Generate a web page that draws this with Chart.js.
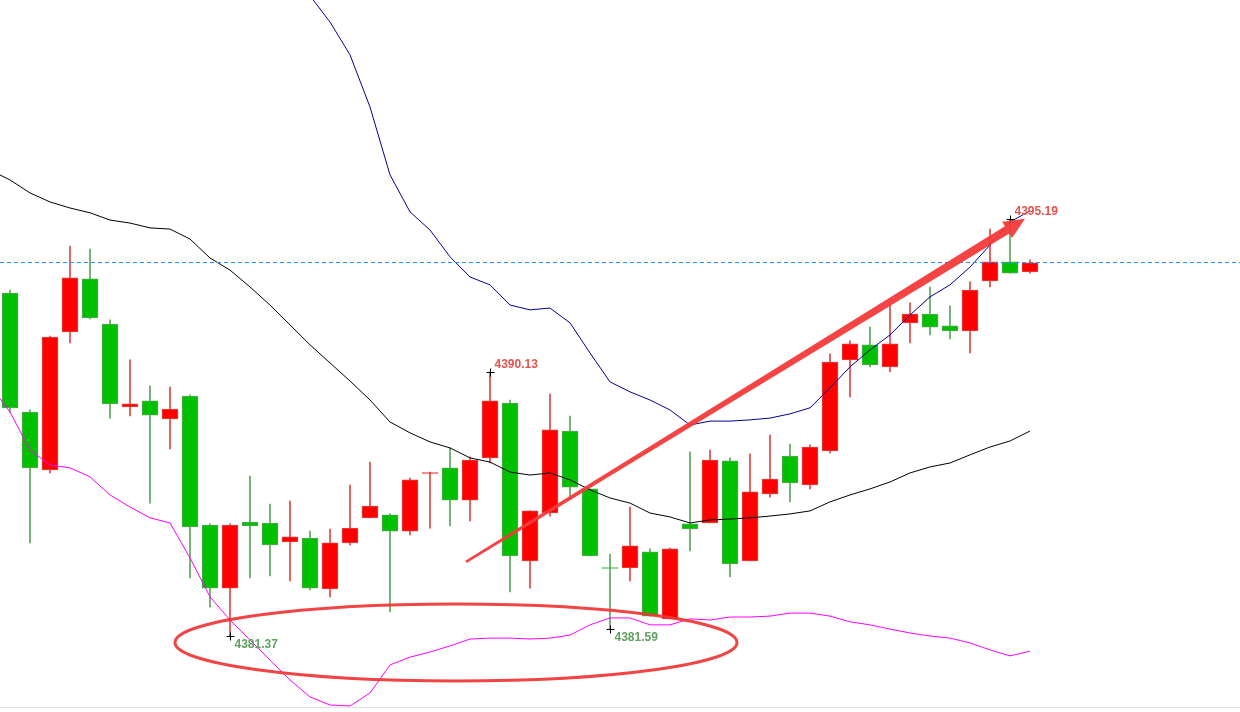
<!DOCTYPE html>
<html lang="es">
<head>
<meta charset="utf-8">
<title>Velas 4381 - 4395</title>
<script src="https://cdn.jsdelivr.net/npm/chart.js@4.4.1/dist/chart.umd.min.js"></script>
<style>
  html, body { margin: 0; padding: 0; background: #fff; }
  #wrap { position: relative; width: 1240px; height: 712px; }
</style>
</head>
<body>
<div id="wrap"><canvas id="velasChart"></canvas></div>
<script>
// ===============================
// datos
// ===============================
const velaApertura = [
  4392.75, 4388.80, 4386.88, 4391.46, 4393.22, 4391.72, 4388.97, 4389.17, 4388.57, 4389.33,
  4385.05, 4382.96, 4385.15, 4385.12, 4384.49, 4384.62, 4382.93, 4384.46, 4385.29, 4385.39,
  4384.85, 4386.76, 4386.95, 4385.88, 4387.28, 4389.10, 4383.86, 4385.45, 4388.17, 4386.25,
  4383.64, 4383.63, 4384.16, 4381.94, 4385.09, 4385.12, 4387.18, 4383.86, 4386.08, 4387.34,
  4386.38, 4387.51, 4390.53, 4391.03, 4390.30, 4391.76, 4392.05, 4391.66, 4391.49, 4393.15,
  4393.78, 4393.45
];
const velaMaximo = [
  4392.85, 4388.87, 4391.32, 4394.31, 4394.21, 4391.86, 4390.53, 4389.67, 4389.63, 4389.37,
  4385.09, 4385.09, 4386.68, 4385.75, 4385.85, 4384.85, 4384.92, 4386.38, 4387.14, 4385.42,
  4386.61, 4386.81, 4387.61, 4387.31, 4390.13, 4389.20, 4385.52, 4389.40, 4388.67, 4386.25,
  4384.09, 4385.65, 4384.26, 4384.29, 4387.48, 4387.54, 4387.28, 4387.41, 4388.04, 4387.74,
  4387.71, 4390.73, 4391.16, 4391.62, 4392.35, 4392.42, 4392.95, 4392.32, 4393.12, 4394.87,
  4395.19, 4393.85
];
const velaMinimo = [
  4388.80, 4384.46, 4386.78, 4391.09, 4391.89, 4388.60, 4388.67, 4385.78, 4387.58, 4383.30,
  4382.33, 4381.37, 4383.30, 4383.36, 4383.20, 4382.90, 4382.67, 4384.39, 4385.29, 4382.17,
  4384.72, 4384.95, 4385.02, 4385.19, 4387.11, 4382.83, 4382.96, 4385.35, 4385.98, 4384.03,
  4381.59, 4383.20, 4382.03, 4381.94, 4384.19, 4385.12, 4383.33, 4383.86, 4385.98, 4385.82,
  4386.25, 4387.44, 4389.30, 4390.30, 4390.13, 4391.09, 4391.36, 4391.23, 4390.76, 4392.95,
  4393.41, 4393.41
];
const velaCierre = [
  4388.94, 4386.95, 4391.29, 4393.25, 4391.92, 4389.07, 4389.07, 4388.70, 4388.90, 4384.99,
  4382.96, 4385.05, 4385.02, 4384.39, 4384.66, 4382.96, 4384.46, 4384.95, 4385.68, 4384.85,
  4386.55, 4386.79, 4385.88, 4387.21, 4389.17, 4384.03, 4385.52, 4388.21, 4386.31, 4384.03,
  4383.61, 4384.36, 4382.03, 4384.26, 4384.92, 4387.21, 4383.76, 4386.15, 4386.58, 4386.45,
  4387.64, 4390.46, 4391.06, 4390.36, 4391.06, 4392.05, 4391.62, 4391.49, 4392.85, 4393.78,
  4393.41, 4393.75
];

// bandas: el primer valor corresponde a la vela anterior (índice -1)
const bandaInicio = -1;
const bandaSup = [
  null, null, null, null, null, null, null, null, null, null, null, null, null, null, null,
  4403.47, 4402.61, 4401.74, 4400.65, 4398.92, 4396.67, 4395.44, 4394.84, 4393.95, 4393.28,
  4393.02, 4392.35, 4392.19, 4392.25, 4391.76, 4390.76, 4389.80, 4389.47, 4389.20, 4388.87,
  4388.37, 4388.50, 4388.50, 4388.54, 4388.60, 4388.74, 4388.94, 4389.60, 4390.30, 4390.86,
  4391.36, 4392.02, 4392.62, 4393.02, 4393.61, 4394.34, 4395.11, 4395.47
];
const bandaMedia = [
  4396.83, 4396.50, 4396.07, 4395.77, 4395.57, 4395.41, 4395.17, 4395.07, 4394.91, 4394.87,
  4394.54, 4393.91, 4393.51, 4392.95, 4392.35, 4391.69, 4391.03, 4390.43, 4389.83, 4389.20,
  4388.47, 4388.11, 4387.81, 4387.61, 4387.28, 4387.14, 4386.81, 4386.71, 4386.78, 4386.55,
  4386.22, 4385.95, 4385.78, 4385.45, 4385.32, 4385.12, 4385.22, 4385.25, 4385.29, 4385.35,
  4385.42, 4385.52, 4385.82, 4386.05, 4386.25, 4386.48, 4386.78, 4386.98, 4387.11, 4387.38,
  4387.64, 4387.84, 4388.17
];
const bandaInf = [
  4389.70, 4388.80, 4387.54, 4387.04, 4386.95, 4386.65, 4386.05, 4385.65, 4385.29, 4385.12,
  4383.96, 4382.67, 4381.90, 4381.24, 4380.57, 4379.91, 4379.35, 4379.08, 4379.05, 4379.48,
  4380.41, 4380.67, 4380.84, 4381.04, 4381.27, 4381.30, 4381.30, 4381.27, 4381.30, 4381.40,
  4381.74, 4381.97, 4381.97, 4381.74, 4381.74, 4381.94, 4381.90, 4382.00, 4382.00, 4382.03,
  4382.13, 4382.13, 4382.03, 4381.84, 4381.74, 4381.60, 4381.47, 4381.37, 4381.30, 4381.14,
  4380.91, 4380.71, 4380.87
];

const nivelPrecio = 4393.76;      // línea punteada azul
const marcaIdx = [24, 11, 30, 50]; // velas con máximo / mínimo marcado
const marcaTipo = ["max", "min", "min", "max"];

// ===============================
// escalas y estilos
// ===============================
const Y_MIN = 4379.015;
const Y_MAX = 4402.47;
const HUECOS = 62; // 52 velas + espacio libre a la derecha

const ROJO = "#ff0000", ROJO_BORDE = "#e0453f", ROJO_MECHA = "#e0453f";
const VERDE = "#00c000", VERDE_BORDE = "#5aa65a", VERDE_MECHA = "#5aa65a";

const sube = velaApertura.map((o, i) => velaCierre[i] >= o);

const cuerpos = velaApertura.map((o, i) => ({ x: i, y: [o, velaCierre[i]] }));
const mechas = velaApertura.map((_, i) => ({ x: i, y: [velaMinimo[i], velaMaximo[i]] }));
const aPuntos = arr => arr.map((v, k) => ({ x: k + bandaInicio, y: v }));

// ===============================
// anotaciones a mano (flecha, elipse, marcas)
// ===============================
const flecha = { desde: { x: 22.8, y: 4383.83 }, hasta: { x: 50.75, y: 4395.21 } };
const elipse = { x: 22.3, y: 4381.155, rx: 14.05, ry: 1.277 };

const anotaciones = {
  id: "anotaciones",
  afterDatasetsDraw(chart) {
    const { ctx, chartArea } = chart;
    const xs = chart.scales.x, ys = chart.scales.y;
    ctx.save();

    // línea gris inferior
    ctx.strokeStyle = "#e4e4e4";
    ctx.lineWidth = 1;
    ctx.beginPath();
    ctx.moveTo(chartArea.left, chartArea.bottom + 0.5);
    ctx.lineTo(chartArea.right, chartArea.bottom + 0.5);
    ctx.stroke();

    // marcas de máximo y mínimo
    ctx.font = "bold 12px 'Liberation Sans', Arial, sans-serif";
    ctx.textBaseline = "middle";
    ctx.textAlign = "left";
    marcaIdx.forEach((idx, k) => {
      const esMax = marcaTipo[k] === "max";
      const valor = esMax ? velaMaximo[idx] : velaMinimo[idx];
      const px = Math.round(xs.getPixelForValue(idx)) + 0.5;
      const py = Math.round(ys.getPixelForValue(valor)) + 0.5;
      ctx.strokeStyle = "#000";
      ctx.lineWidth = 1;
      ctx.beginPath();
      ctx.moveTo(px - 4, py); ctx.lineTo(px + 4, py);
      ctx.moveTo(px, py - 4); ctx.lineTo(px, py + 4);
      ctx.stroke();
      ctx.fillStyle = esMax ? "#e2544e" : "#62a062";
      ctx.fillText(valor.toFixed(2), px + 4, esMax ? py - 8 : py + 8);
    });

    // elipse roja
    const cx = xs.getPixelForValue(elipse.x);
    const cy = ys.getPixelForValue(elipse.y);
    const rx = xs.getPixelForValue(elipse.x + elipse.rx) - cx;
    const ry = cy - ys.getPixelForValue(elipse.y + elipse.ry);
    ctx.strokeStyle = "rgba(240,52,52,0.92)";
    ctx.lineWidth = 3;
    ctx.beginPath();
    ctx.ellipse(cx, cy, rx, ry, 0, 0, Math.PI * 2);
    ctx.stroke();

    // flecha roja que se ensancha
    const sx = xs.getPixelForValue(flecha.desde.x), sy = ys.getPixelForValue(flecha.desde.y);
    const ex = xs.getPixelForValue(flecha.hasta.x), ey = ys.getPixelForValue(flecha.hasta.y);
    const len = Math.hypot(ex - sx, ey - sy);
    const ux = (ex - sx) / len, uy = (ey - sy) / len;
    const nx = -uy, ny = ux;
    const cabeza = 21, anchoCabeza = 9.5, w0 = 1.3, w1 = 4.2;
    const bx = ex - ux * cabeza, by = ey - uy * cabeza;
    ctx.fillStyle = "rgba(243,58,58,0.95)";
    ctx.beginPath();
    ctx.moveTo(sx + nx * w0, sy + ny * w0);
    ctx.lineTo(bx + nx * w1, by + ny * w1);
    ctx.lineTo(bx + nx * anchoCabeza, by + ny * anchoCabeza);
    ctx.lineTo(ex, ey);
    ctx.lineTo(bx - nx * anchoCabeza, by - ny * anchoCabeza);
    ctx.lineTo(bx - nx * w1, by - ny * w1);
    ctx.lineTo(sx - nx * w0, sy - ny * w0);
    ctx.closePath();
    ctx.fill();

    ctx.restore();
  }
};

// ===============================
// gráfico
// ===============================
const ctx = document.getElementById("velasChart");

new Chart(ctx, {
  type: "bar",
  data: {
    datasets: [
      {
        type: "line",
        label: "Nivel",
        data: [{ x: -0.5, y: nivelPrecio }, { x: HUECOS - 0.5, y: nivelPrecio }],
        borderColor: "#1e8cff",
        borderWidth: 1,
        borderDash: [4, 3],
        pointRadius: 0,
        order: 0
      },
      {
        type: "line",
        label: "Banda superior",
        data: aPuntos(bandaSup),
        borderColor: "#00008c",
        borderWidth: 1,
        pointRadius: 0,
        tension: 0,
        order: 0
      },
      {
        type: "line",
        label: "Media",
        data: aPuntos(bandaMedia),
        borderColor: "#000000",
        borderWidth: 1,
        pointRadius: 0,
        tension: 0,
        order: 0
      },
      {
        type: "line",
        label: "Banda inferior",
        data: aPuntos(bandaInf),
        borderColor: "#ff00ff",
        borderWidth: 1,
        pointRadius: 0,
        tension: 0,
        order: 0
      },
      {
        label: "Cuerpo",
        data: cuerpos,
        backgroundColor: sube.map(s => (s ? ROJO : VERDE)),
        borderColor: sube.map(s => (s ? ROJO_BORDE : VERDE_BORDE)),
        borderWidth: 1,
        borderSkipped: false,
        barThickness: 16,
        grouped: false,
        order: 1
      },
      {
        label: "Mecha",
        data: mechas,
        backgroundColor: sube.map(s => (s ? ROJO_MECHA : VERDE_MECHA)),
        borderWidth: 0,
        barThickness: 1,
        grouped: false,
        order: 2
      }
    ]
  },
  options: {
    responsive: true,
    maintainAspectRatio: false,
    animation: false,
    layout: { padding: { left: 0, right: 0, top: 0, bottom: 5 } },
    plugins: {
      legend: { display: false },
      tooltip: { enabled: false }
    },
    scales: {
      x: { type: "linear", min: -0.5, max: HUECOS - 0.5, offset: false, display: false },
      y: { type: "linear", min: Y_MIN, max: Y_MAX, display: false }
    }
  },
  plugins: [anotaciones]
});
</script>
</body>
</html>
